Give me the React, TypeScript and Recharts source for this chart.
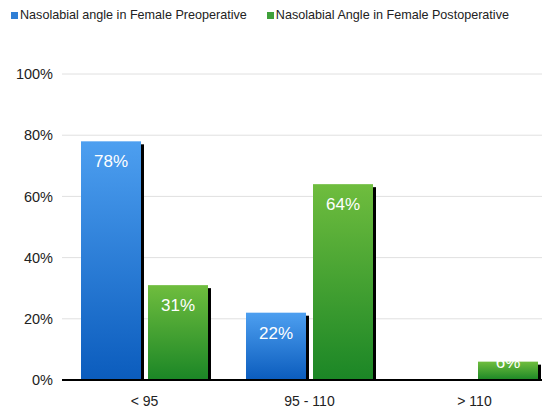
import React from "react";
import { BarChart, Bar, XAxis, YAxis, CartesianGrid, Legend, LabelList } from "recharts";

const categories = ["< 95", "95 - 110", "> 110"];
const preoperative = [78, 22, 0];
const postoperative = [31, 64, 6];
const yTicks = [0, 20, 40, 60, 80, 100];
const seriesNames = [
  "Nasolabial angle in Female Preoperative",
  "Nasolabial Angle in Female Postoperative",
];

const data = categories.map((c, i) => ({ cat: c, pre: preoperative[i], post: postoperative[i] }));

const FONT = "Arial, 'Liberation Sans', sans-serif";

const ShadowBar = (props: any) => {
  const { x, y, width, height, fill } = props;
  if (!height || height <= 0) return null;
  return (
    <g>
      <rect x={x + width} y={y + 3} width={3} height={height - 3} fill="#000" />
      <rect x={x} y={y} width={width} height={height} fill={fill} />
    </g>
  );
};

const BarLabel = (props: any) => {
  const { x, y, width, height, value } = props;
  if (!value) return null;
  const ty = Math.min(y + 26, y + height - 12);
  return (
    <text x={x + width / 2} y={ty} textAnchor="middle" fill="#fff" fontSize={17} fontFamily={FONT}>
      {value}%
    </text>
  );
};

const LegendContent = () => (
  <div style={{ display: "flex", fontFamily: FONT, fontSize: 12.6, color: "#222", whiteSpace: "nowrap" }}>
    <div style={{ display: "flex", alignItems: "center", marginLeft: 0 }}>
      <span style={{ display: "inline-block", width: 7, height: 7, background: "#2f7fd6", marginRight: 2 }} />
      <span>{seriesNames[0]}</span>
    </div>
    <div style={{ display: "flex", alignItems: "center", marginLeft: 20 }}>
      <span style={{ display: "inline-block", width: 7, height: 7, background: "#3fa03a", marginRight: 2 }} />
      <span>{seriesNames[1]}</span>
    </div>
  </div>
);

export default function App() {
  return (
    <div style={{ width: 542, height: 402, overflow: "hidden" }}>
      <BarChart
        width={560}
        height={402}
        data={data}
        margin={{ top: 52, right: 11, bottom: 0, left: 0 }}
        barSize={60}
        barGap={7}
      >
        <defs>
          <linearGradient id="gBlue" x1="0" y1="0" x2="0" y2="1">
            <stop offset="0%" stopColor="#4d9ff0" />
            <stop offset="100%" stopColor="#0b5cbd" />
          </linearGradient>
          <linearGradient id="gGreen" x1="0" y1="0" x2="0" y2="1">
            <stop offset="0%" stopColor="#6fbd3e" />
            <stop offset="100%" stopColor="#1b8626" />
          </linearGradient>
        </defs>
        <CartesianGrid vertical={false} stroke="#e0e0e0" />
        <XAxis
          dataKey="cat"
          height={30}
          tickLine={false}
          axisLine={{ stroke: "#000", strokeWidth: 2 }}
          tick={{ fill: "#222", fontSize: 14, fontFamily: FONT }}
          tickMargin={10}
        />
        <YAxis
          width={54}
          domain={[0, 100]}
          ticks={yTicks}
          tickFormatter={(v: number) => `${v}%`}
          axisLine={false}
          tickLine={false}
          tick={{ fill: "#222", fontSize: 14.5, fontFamily: FONT }}
          tickMargin={3}
        />
        <Legend
          verticalAlign="top"
          align="left"
          content={<LegendContent />}
          wrapperStyle={{ top: 0, left: 3, width: 540 }}
        />
        <Bar dataKey="pre" fill="url(#gBlue)" shape={<ShadowBar />} isAnimationActive={false}>
          <LabelList dataKey="pre" content={<BarLabel />} />
        </Bar>
        <Bar dataKey="post" fill="url(#gGreen)" shape={<ShadowBar />} isAnimationActive={false}>
          <LabelList dataKey="post" content={<BarLabel />} />
        </Bar>
      </BarChart>
    </div>
  );
}
